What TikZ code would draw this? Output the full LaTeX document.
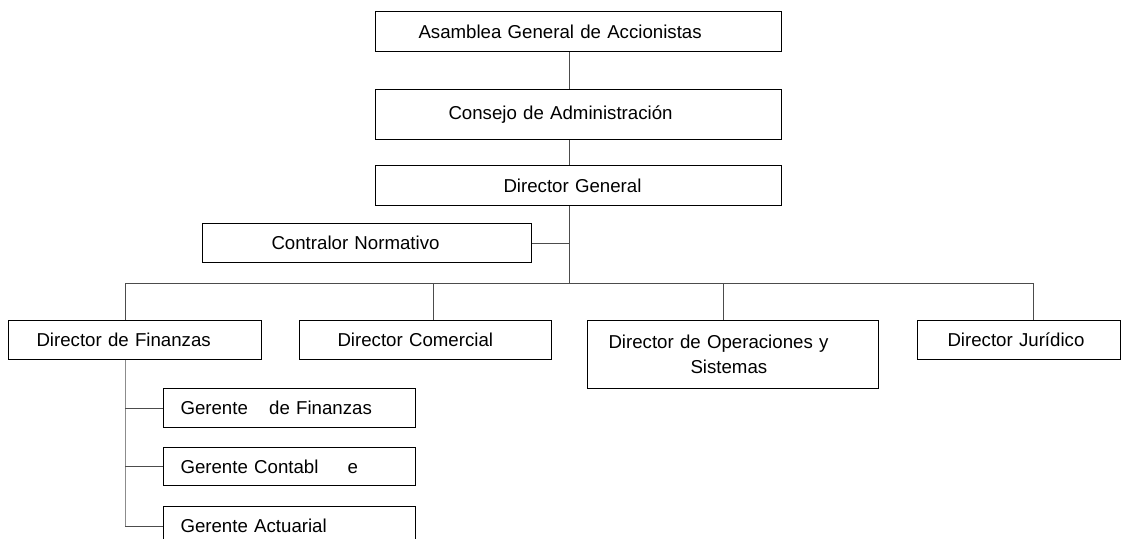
\documentclass[tikz,border=0pt]{standalone}
\usepackage{fontspec}
\setmainfont{Liberation Sans}
\newdimen\upx \upx=0.75pt
\begin{document}
\begin{tikzpicture}[x=0.75pt,y=-0.75pt,
  box/.style={draw=black, line width=0.75pt, anchor=north west, inner xsep=0pt, inner ysep=0pt,
    align=left, font=\fontsize{14pt}{18.75pt}\selectfont},
  conn/.style={draw=black!70, line width=0.75pt},
  subconn/.style={draw=black!45, line width=0.75pt}]
\useasboundingbox (0,0) rectangle (1122,539);
\clip (0,0) rectangle (1122,539);

% top chain
\node[box, text width=304.5pt, minimum height=30pt] (asam) at (375,11) {\hspace*{43\upx}Asamblea General de Accionistas};
\node[box, text width=304.5pt, minimum height=37.5pt] (cons) at (375,89) {\hspace*{73\upx}Consejo de Administración};
\node[box, text width=304.5pt, minimum height=30pt] (dg) at (375,165) {\hspace*{128\upx}Director General};
\node[box, text width=246.75pt, minimum height=29.25pt] (cn) at (202,223) {\hspace*{69\upx}Contralor Normativo};

% directors
\node[box, text width=189.75pt, minimum height=29.25pt] (df) at (8,320) {\hspace*{28\upx}Director de Finanzas};
\node[box, text width=189pt, minimum height=29.25pt] (dc) at (299,320) {\hspace*{38\upx}Director Comercial};
\node[box, text width=218.25pt, minimum height=51pt] (do) at (587,320) {\hspace*{21\upx}Director de Operaciones y\\\hspace*{103\upx}Sistemas};
\node[box, text width=152.25pt, minimum height=29.25pt] (dj) at (917,320) {\hspace*{30\upx}Director Jurídico};

% managers
\node[box, text width=189pt, minimum height=29.25pt] (gf) at (163,388) {\hspace*{17\upx}Gerente\hspace*{15\upx} de Finanzas};
\node[box, text width=189pt, minimum height=28.5pt] (gc) at (163,447) {\hspace*{17\upx}Gerente Contabl\hspace*{23\upx} e};
\node[box, text width=189pt, minimum height=29.25pt] (ga) at (163,506) {\hspace*{17\upx}Gerente Actuarial};

% spine and bus coordinates
\coordinate (sp) at (569,283);
\coordinate (b1) at (125,283);
\coordinate (b2) at (433,283);
\coordinate (b3) at (723,283);
\coordinate (b4) at (1033,283);

\draw[conn] (asam.south -| sp) -- (cons.north -| sp);
\draw[conn] (cons.south -| sp) -- (dg.north -| sp);
\draw[conn] (dg.south -| sp) -- (sp);
\draw[conn] (cn.east) -- (cn.east -| sp);
\draw[conn] (b1) -- (b4);
\draw[conn] (b1) -- (b1 |- df.north);
\draw[conn] (b2) -- (b2 |- dc.north);
\draw[conn] (b3) -- (b3 |- do.north);
\draw[conn] (b4) -- (b4 |- dj.north);

\draw[subconn] (b1 |- df.south) -- (b1 |- ga.west);
\draw[conn] (b1 |- gf.west) -- (gf.west);
\draw[conn] (b1 |- gc.west) -- (gc.west);
\draw[conn] (b1 |- ga.west) -- (ga.west);
\end{tikzpicture}
\end{document}
